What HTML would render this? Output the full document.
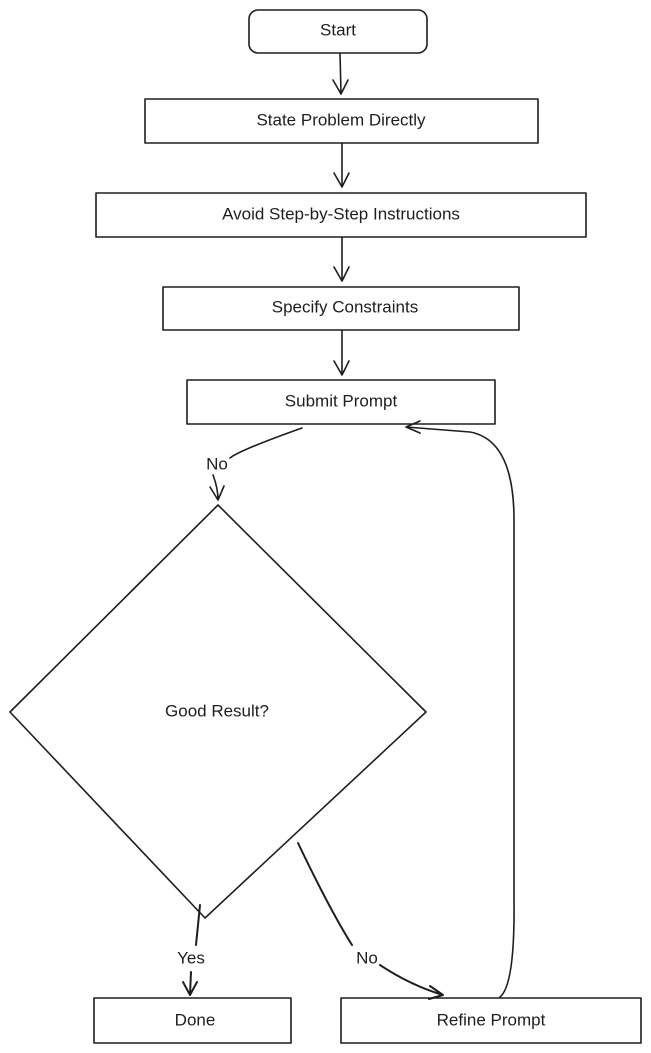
<!DOCTYPE html>
<html><head><meta charset="utf-8"><style>
html,body{margin:0;padding:0;background:#fff}
svg{display:block}
text{font-family:"Liberation Sans",sans-serif;font-size:17px;fill:#1e1e1e;text-anchor:middle;dominant-baseline:middle}
</style></head><body>
<svg width="651" height="1053" viewBox="0 0 651 1053" xmlns="http://www.w3.org/2000/svg">
<g fill="none" stroke="#1e1e1e" stroke-width="1.6" stroke-linecap="round" stroke-linejoin="round">
<rect x="249" y="10" width="178" height="43" rx="9"/>
<rect x="145" y="99" width="393" height="44"/>
<rect x="96" y="193" width="490" height="44"/>
<rect x="163" y="287" width="356" height="43"/>
<rect x="187" y="380" width="308" height="44"/>
<polygon points="218,505 426,712 205,918 10,712"/>
<rect x="94" y="998" width="197" height="45"/>
<rect x="341" y="998" width="300" height="45"/>
<!-- straight arrows -->
<path d="M340 53 L341 94 M333 80 L341 94 L348 80"/>
<path d="M342 143 L342 187 M334 173 L342 187 L349 173"/>
<path d="M342 237 L342 281 M334 267 L342 281 L349 267"/>
<path d="M342 330 L342 375 M334 361 L342 375 L349 361"/>
<!-- submit -> diamond -->
<path d="M302 428 Q240 450 230 458"/>
<path d="M213 475 Q218 488 218 500 M210 487 L218 500 L224 486"/>
<!-- yes -->
<path d="M200 905 L196 945 M191 972 L190 995 M183 982 L190 995 L197 982" stroke-width="2"/>
<!-- no to refine -->
<path d="M298 843 Q330 910 352 945 M380 965 Q410 985 443 995 M430 986 L443 995 L429 999" stroke-width="2"/>
<!-- loop -->
<path d="M500 997 Q515 985 514 900 L514 520 Q514 440 470 432 L406 427 M420 421 L406 427 L420 433"/>
</g>
<text x="338" y="31">Start</text>
<text x="341" y="121">State Problem Directly</text>
<text x="341" y="215">Avoid Step-by-Step Instructions</text>
<text x="345" y="308">Specify Constraints</text>
<text x="341" y="402">Submit Prompt</text>
<text x="217" y="465">No</text>
<text x="217" y="712">Good Result?</text>
<text x="191" y="959">Yes</text>
<text x="367" y="959">No</text>
<text x="195" y="1021">Done</text>
<text x="491" y="1021">Refine Prompt</text>
</svg>
</body></html>
